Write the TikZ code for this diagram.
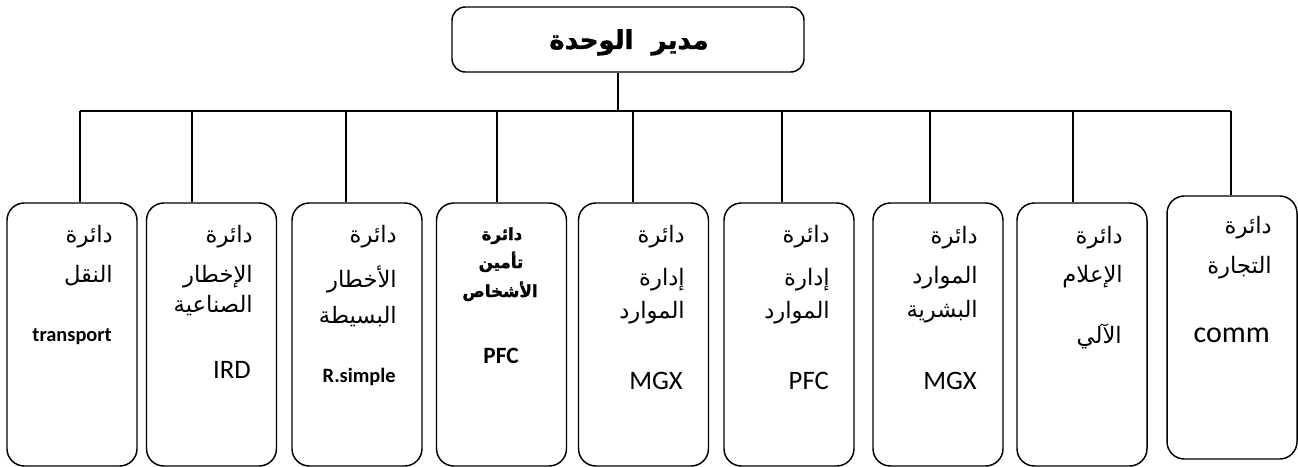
\documentclass[tikz,border=0pt]{standalone}
\usepackage{fontspec}
\setmainfont{Liberation Sans}
\newfontfamily\arfont[Script=Arabic]{DejaVu Sans}
\newfontfamily\arbold[Script=Arabic, FakeBold=1.5]{DejaVu Sans Bold}
\newfontfamily\calfont{Carlito}
\TeXXeTstate=1
\tikzset{
  box/.style={draw, line width=1.1pt, rounded corners=13pt, inner sep=0pt,
              minimum width=97.5pt, minimum height=197.25pt},
  topbox/.style={draw, line width=1.1pt, rounded corners=10pt, inner sep=0pt,
              minimum width=264pt, minimum height=48.75pt},
  link/.style={line width=1.1pt},
  ar/.style={font=\arfont\fontsize{17}{20}\selectfont, inner sep=0pt, anchor=base east},
  arb/.style={font=\arbold\fontsize{12.5}{14}\selectfont, inner sep=0pt, anchor=base},
  latb/.style={font=\calfont\bfseries\fontsize{15.3}{18}\selectfont, inner sep=0pt, anchor=base east},
  latc/.style={font=\calfont\fontsize{20}{22}\selectfont, inner sep=0pt, anchor=base east},
}
\begin{document}
\begin{tikzpicture}[x=0.75pt,y=-0.75pt]
\useasboundingbox (0,0) rectangle (1298,467);
% top box
\node[topbox] (top) at (628,39.5) {};
\node[font=\arbold\fontsize{19.5}{22}\selectfont, inner sep=0pt, anchor=base] (title) at (629,49) {\beginR مدير \ الوحدة\endR};
% boxes
\node[box] (b1) at (72,334.5) {};
\node[box] (b2) at (211.5,334.5) {};
\node[box] (b3) at (357,334.5) {};
\node[box] (b4) at (501.5,334.5) {};
\node[box] (b5) at (643.5,334.5) {};
\node[box] (b6) at (789,334.5) {};
\node[box] (b7) at (938,334.5) {};
\node[box] (b8) at (1082,334.5) {};
\node[box] (b9) at (1232,327.5) {};
% connectors
\coordinate (j) at (618,111);
\coordinate (d1) at (80,111);
\coordinate (d2) at (192,111);
\coordinate (d3) at (346,111);
\coordinate (d4) at (497,111);
\coordinate (d5) at (633,111);
\coordinate (d6) at (782,111);
\coordinate (d7) at (930,111);
\coordinate (d8) at (1073,111);
\coordinate (d9) at (1231,111);
\draw[link] (top.south -| j) -- (j);
\draw[link] (d1) -- (d9);
\draw[link] (d1) -- (d1 |- b1.north);
\draw[link] (d2) -- (d2 |- b2.north);
\draw[link] (d3) -- (d3 |- b3.north);
\draw[link] (d4) -- (d4 |- b4.north);
\draw[link] (d5) -- (d5 |- b5.north);
\draw[link] (d6) -- (d6 |- b6.north);
\draw[link] (d7) -- (d7 |- b7.north);
\draw[link] (d8) -- (d8 |- b8.north);
\draw[link] (d9) -- (d9 |- b9.north);
% box 1
\node[ar] (t1a) at (113,242) {\beginR دائرة\endR};
\node[ar] (t1b) at (113,282) {\beginR النقل\endR};
\node[latb] (t1c) at (112,341) {transport};
% box 2
\node[ar] (t2a) at (253,242) {\beginR دائرة\endR};
\node[ar] (t2b) at (253,282) {\beginR الإخطار\endR};
\node[ar] (t2c) at (253,312) {\beginR الصناعية\endR};
\node[latc] (t2d) at (251,378) {IRD};
% box 3
\node[ar] (t3a) at (397,242) {\beginR دائرة\endR};
\node[ar] (t3b) at (397,287) {\beginR الأخطار\endR};
\node[ar] (t3c) at (397,323) {\beginR البسيطة\endR};
\node[latb] (t3d) at (396,382) {R.simple};
% box 4
\node[arb] (t4a) at (502,240) {\beginR دائرة\endR};
\node[arb] (t4b) at (501,268) {\beginR تأمين\endR};
\node[arb] (t4c) at (500,297) {\beginR الأشخاص\endR};
\node[latb, anchor=base, font=\calfont\bfseries\fontsize{17.5}{20}\selectfont] (t4d) at (501,363) {PFC};
% box 5
\node[ar] (t5a) at (685,242) {\beginR دائرة\endR};
\node[ar] (t5b) at (685,285) {\beginR إدارة\endR};
\node[ar] (t5c) at (685,318) {\beginR الموارد\endR};
\node[latc] (t5d) at (683,389) {MGX};
% box 6
\node[ar] (t6a) at (830,242) {\beginR دائرة\endR};
\node[ar] (t6b) at (830,285) {\beginR إدارة\endR};
\node[ar] (t6c) at (830,318) {\beginR الموارد\endR};
\node[latc] (t6d) at (829,389) {PFC};
% box 7
\node[ar] (t7a) at (978,243) {\beginR دائرة\endR};
\node[ar] (t7b) at (978,283) {\beginR الموارد\endR};
\node[ar] (t7c) at (978,317) {\beginR البشرية\endR};
\node[latc] (t7d) at (977,389) {MGX};
% box 8
\node[ar] (t8a) at (1123,243) {\beginR دائرة\endR};
\node[ar] (t8b) at (1123,282) {\beginR الإعلام\endR};
\node[ar] (t8c) at (1122,343) {\beginR الآلي\endR};
% box 9
\node[ar] (t9a) at (1272,233) {\beginR دائرة\endR};
\node[ar] (t9b) at (1272,273) {\beginR التجارة\endR};
\node[latc, font=\calfont\fontsize{22.5}{24}\selectfont] (t9c) at (1270,342) {comm};
\end{tikzpicture}
\end{document}
